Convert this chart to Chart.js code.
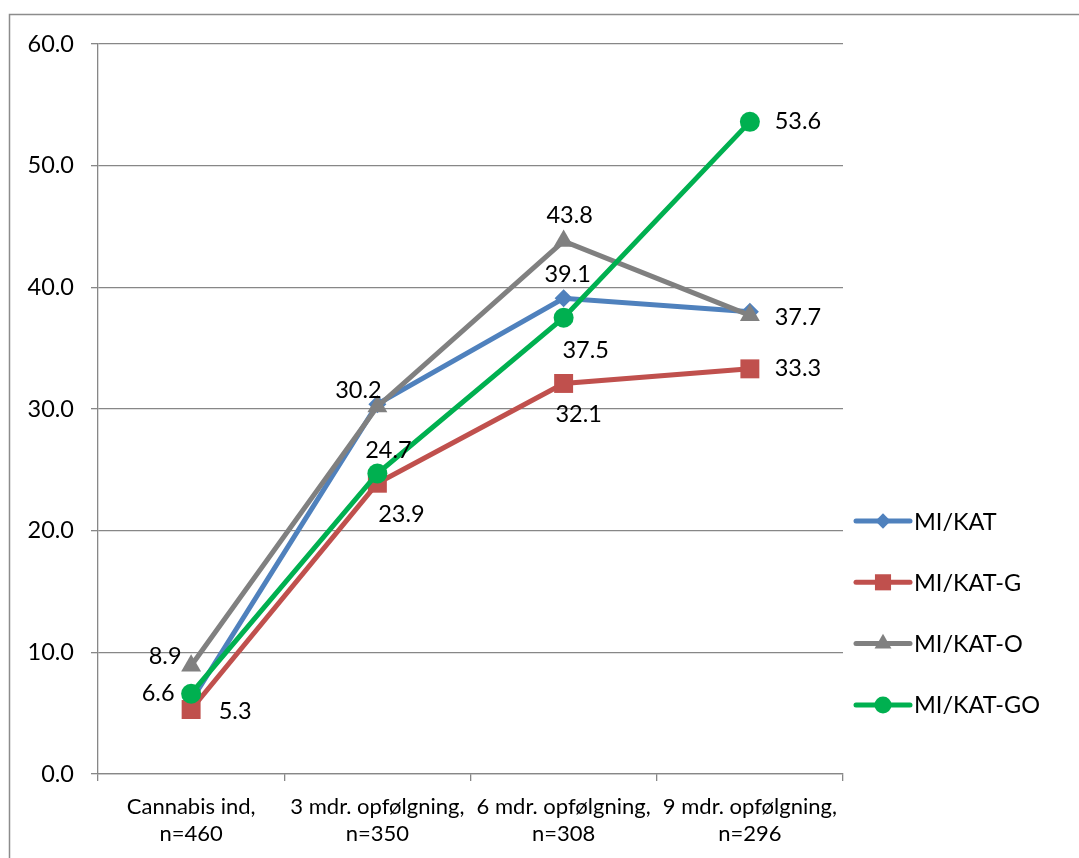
<!DOCTYPE html>
<html>
<head>
<meta charset="utf-8">
<title>Cannabis – opfølgning</title>
<script src="https://cdn.jsdelivr.net/npm/chart.js@4.4.1/dist/chart.umd.min.js"></script>
<style>
  html, body { margin: 0; padding: 0; background: #ffffff; }
  #wrap { width: 1079px; height: 858px; position: relative; }
</style>
</head>
<body>
<div id="wrap"><canvas id="c" width="1079" height="858"></canvas></div>
<script>
// ---- data ----
const categories = [
  ["Cannabis ind,", "n=460"],
  ["3 mdr. opfølgning,", "n=350"],
  ["6 mdr. opfølgning,", "n=308"],
  ["9 mdr. opfølgning,", "n=296"]
];
const seriesNames = ["MI/KAT", "MI/KAT-G", "MI/KAT-O", "MI/KAT-GO"];
const miKat   = [6.0, 30.4, 39.1, 38.0];
const miKatG  = [5.3, 23.9, 32.1, 33.3];
const miKatO  = [8.9, 30.2, 43.8, 37.7];
const miKatGO = [6.6, 24.7, 37.5, 53.6];
const yMin = 0, yMax = 60, yStep = 10;

// which values get a printed label
const showLabel = [
  [false, false, true, false],
  [true, true, true, true],
  [true, true, true, true],
  [true, true, true, true]
];
// label nudges from the marker centre (dx, dy)
const labelNudge = [
  [null, null, [4, -24], null],
  [[44, 2], [24, 31], [15, 31], [48, 0]],
  [[-26, -9], [-19, -16], [6, -26], [48, 2]],
  [[-33, 0], [11, -23], [22, 33], [48, 0]]
];

// ---- styles ----
const colors = ["#4F81BD", "#C0504D", "#808080", "#00B050"];
const pointStyles = ["rectRot", "rect", "triangle", "circle"];
const pointRadii = [9, 13.4, 11.5, 10];
const GRID = "#878787";
const FONT = "Lato, 'Open Sans', sans-serif";

const seriesValues = [miKat, miKatG, miKatO, miKatGO];

const datasets = seriesValues.map((vals, i) => ({
  label: seriesNames[i],
  data: vals,
  borderColor: colors[i],
  backgroundColor: colors[i],
  pointBackgroundColor: colors[i],
  pointBorderColor: colors[i],
  pointBorderWidth: 0,
  pointStyle: pointStyles[i],
  pointRadius: pointRadii[i],
  pointHoverRadius: pointRadii[i],
  borderWidth: 5,
  tension: 0,
  fill: false,
  clip: false,
  order: 4 - i
}));

// page frame (top and left rules)
const framePlugin = {
  id: 'frame',
  beforeDraw(chart) {
    const ctx = chart.ctx;
    ctx.save();
    ctx.fillStyle = '#ffffff';
    ctx.fillRect(0, 0, chart.width, chart.height);
    ctx.strokeStyle = '#8c8c8c';
    ctx.lineWidth = 1.5;
    ctx.beginPath();
    ctx.moveTo(9.5, chart.height);
    ctx.lineTo(9.5, 14.5);
    ctx.lineTo(chart.width, 14.5);
    ctx.stroke();
    ctx.restore();
  }
};

// value labels next to the markers
const valueLabelPlugin = {
  id: 'valueLabels',
  afterDatasetsDraw(chart) {
    const ctx = chart.ctx;
    ctx.save();
    ctx.font = "23.5px " + FONT;
    ctx.fillStyle = '#000000';
    ctx.textAlign = 'center';
    ctx.textBaseline = 'middle';
    chart.data.datasets.forEach((ds, i) => {
      const meta = chart.getDatasetMeta(i);
      meta.data.forEach((pt, j) => {
        if (!showLabel[i][j]) return;
        const n = labelNudge[i][j] || [0, -24];
        ctx.fillText(ds.data[j].toFixed(1), pt.x + n[0], pt.y + n[1]);
      });
    });
    ctx.restore();
  }
};

// legend: line sample with the marker in the middle
const legendPlugin = {
  id: 'sideLegend',
  afterDraw(chart) {
    const ctx = chart.ctx;
    const area = chart.chartArea;
    const x0 = area.right + 13;
    const x1 = x0 + 54;
    const xm = (x0 + x1) / 2;
    const yStart = 521, gap = 61.3;
    ctx.save();
    chart.data.datasets.forEach((ds, i) => {
      const y = yStart + i * gap;
      ctx.strokeStyle = ds.borderColor;
      ctx.lineWidth = 5;
      ctx.lineCap = 'round';
      ctx.beginPath();
      ctx.moveTo(x0, y);
      ctx.lineTo(x1, y);
      ctx.stroke();
      ctx.fillStyle = ds.borderColor;
      ctx.strokeStyle = ds.borderColor;
      Chart.helpers.drawPoint(ctx, {
        pointStyle: ds.pointStyle,
        radius: ds.pointRadius * 0.85,
        borderWidth: 0,
        rotation: 0
      }, xm, y);
      ctx.fillStyle = '#000000';
      ctx.font = "23.5px " + FONT;
      ctx.textAlign = 'left';
      ctx.textBaseline = 'middle';
      ctx.fillText(ds.label, x1 + 4, y + 1);
    });
    ctx.restore();
  }
};

new Chart(document.getElementById('c'), {
  type: 'line',
  data: { labels: categories, datasets: datasets },
  options: {
    responsive: false,
    animation: false,
    events: [],
    layout: { padding: { left: 10, top: 44, right: 236, bottom: 0 } },
    plugins: {
      legend: { display: false },
      tooltip: { enabled: false },
      title: { display: false }
    },
    scales: {
      x: {
        type: 'category',
        offset: true,
        grid: {
          offset: true,
          drawOnChartArea: false,
          drawTicks: true,
          tickLength: 7,
          color: GRID,
          lineWidth: 1.3
        },
        border: { display: true, color: GRID, width: 1.3 },
        ticks: {
          color: '#000000',
          font: { family: FONT, size: 22, lineHeight: 1.24 },
          padding: 12,
          maxRotation: 0,
          autoSkip: false
        },
        afterFit(scale) { scale.height = 84; }
      },
      y: {
        min: yMin,
        max: yMax,
        grid: {
          color: GRID,
          lineWidth: 1.3,
          drawTicks: true,
          tickLength: 7
        },
        border: { display: true, color: GRID, width: 1.3 },
        ticks: {
          stepSize: yStep,
          color: '#000000',
          font: { family: FONT, size: 23.5 },
          padding: 17,
          callback: v => Number(v).toFixed(1)
        },
        afterFit(scale) { scale.width = 88; }
      }
    }
  },
  plugins: [framePlugin, valueLabelPlugin, legendPlugin]
});
</script>
</body>
</html>
